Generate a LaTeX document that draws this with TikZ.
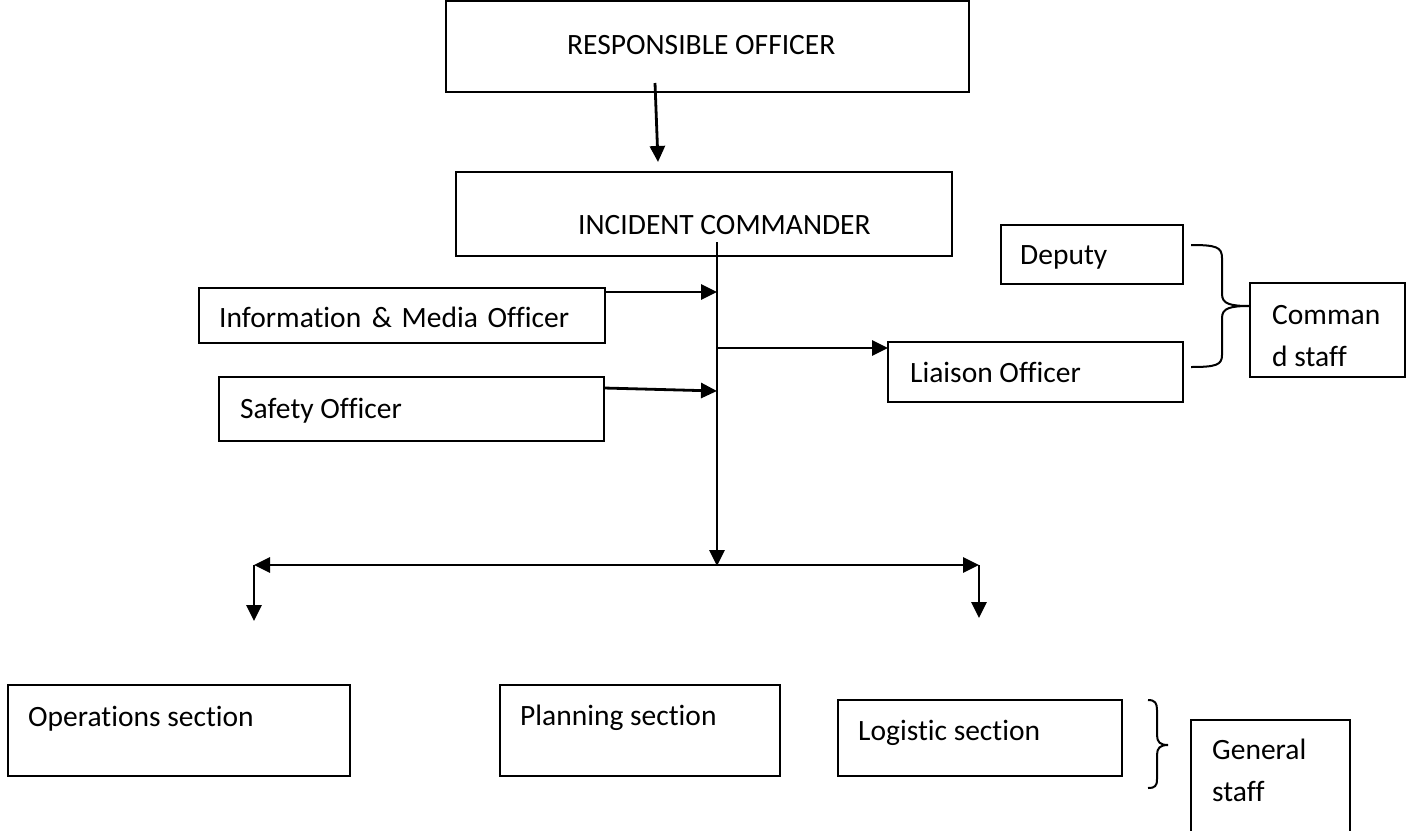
\documentclass[tikz,border=0pt]{standalone}
\usepackage{fontspec}
\setmainfont[Ligatures=NoCommon]{Carlito}
\usetikzlibrary{arrows.meta}
\tikzset{
  box/.style={draw=black, line width=2pt, inner sep=0pt, outer sep=0pt, anchor=north west, fill=white},
  lbl/.style={anchor=base west, inner sep=0pt, font=\fontsize{29.5}{35}\selectfont},
  conn/.style={line width=2.8pt, -{Triangle[length=16pt,width=15pt]}},
  brace/.style={line width=2pt},
}
\newcommand{\boxat}[5]{\node[box, minimum width=#4pt, minimum height=#5pt] (#1) at (#2,#3) {};}
\begin{document}
\begin{tikzpicture}[x=1pt,y=-1pt]
\useasboundingbox (0,0) rectangle (1412,830);
% boxes
\boxat{resp}{446}{1}{523}{91}
\boxat{ic}{456}{172}{496}{84}
\boxat{info}{199}{288}{406}{55}
\boxat{safety}{219}{377}{385}{64}
\boxat{liaison}{888}{342}{295}{60}
\boxat{deputy}{1001}{225}{182}{59}
\boxat{cmdstaff}{1250}{283}{155}{94}
\boxat{ops}{8}{685}{342}{91}
\boxat{plan}{500}{685}{280}{91}
\boxat{log}{838}{700}{284}{76}
\boxat{genstaff}{1191}{720}{159}{130}
% labels
\node[lbl] (tresp) at (567,54) {RESPONSIBLE OFFICER};
\node[lbl] (tic) at (578,234) {INCIDENT COMMANDER};
\node[lbl] (tinfo) at (219,327) {Information\hspace{4pt} \&\hspace{3pt} Media\hspace{3pt} Officer};
\node[lbl] (tsafety) at (240,418) {Safety Officer};
\node[lbl] (tliaison) at (910,382) {Liaison Officer};
\node[lbl] (tdeputy) at (1020,264) {Deputy};
\node[lbl] (tcmd1) at (1272,324) {Comman};
\node[lbl] (tcmd2) at (1272,366) {d staff};
\node[lbl] (tops) at (28,726) {Operations section};
\node[lbl] (tplan) at (520,725) {Planning section};
\node[lbl] (tlog) at (858,740) {Logistic section};
\node[lbl] (tgen1) at (1212,759) {General};
\node[lbl] (tgen2) at (1212,801) {staff};
% coordinates
\coordinate (respout) at (655,83);
\coordinate (icin) at (658,162);
\coordinate (trunktop) at (717,242);
\coordinate (hub) at (717,566);
\coordinate (infoin) at (717,292);
\coordinate (safetyin) at (717,391);
\coordinate (liaisonout) at (717,348);
\coordinate (L) at (254,565);
\coordinate (R) at (979,565);
\coordinate (Ldown) at (254,621);
\coordinate (Rdown) at (979,618);
% connectors
\draw[conn] (respout) -- (icin);
\draw[conn] (trunktop) -- (hub);
\draw[conn] (info.east |- infoin) -- (infoin);
\draw[conn] (604,388) -- (safetyin);
\draw[conn] (liaisonout) -- (liaison.west |- liaisonout);
\draw[line width=2.8pt, {Triangle[length=16pt,width=15pt]}-{Triangle[length=16pt,width=15pt]}] (L) -- (R);
\draw[conn] (L) -- (Ldown);
\draw[conn] (R) -- (Rdown);
% braces
\draw[brace] (1191,245) .. controls (1216,245) and (1222,247) .. (1222,258) -- (1222,294)
  .. controls (1222,304) and (1230,306) .. (cmdstaff.west |- 0,306);
\draw[brace] (cmdstaff.west |- 0,306) .. controls (1230,306) and (1222,308) .. (1222,318) -- (1222,355)
  .. controls (1222,365) and (1216,367) .. (1191,367);
\draw[brace] (1148,700) .. controls (1155,700) and (1157,703) .. (1157,710) -- (1157,735)
  .. controls (1157,742) and (1160,745) .. (1168,745)
  .. controls (1160,745) and (1157,748) .. (1157,755) -- (1157,779)
  .. controls (1157,786) and (1155,788) .. (1148,788);
\end{tikzpicture}
\end{document}
